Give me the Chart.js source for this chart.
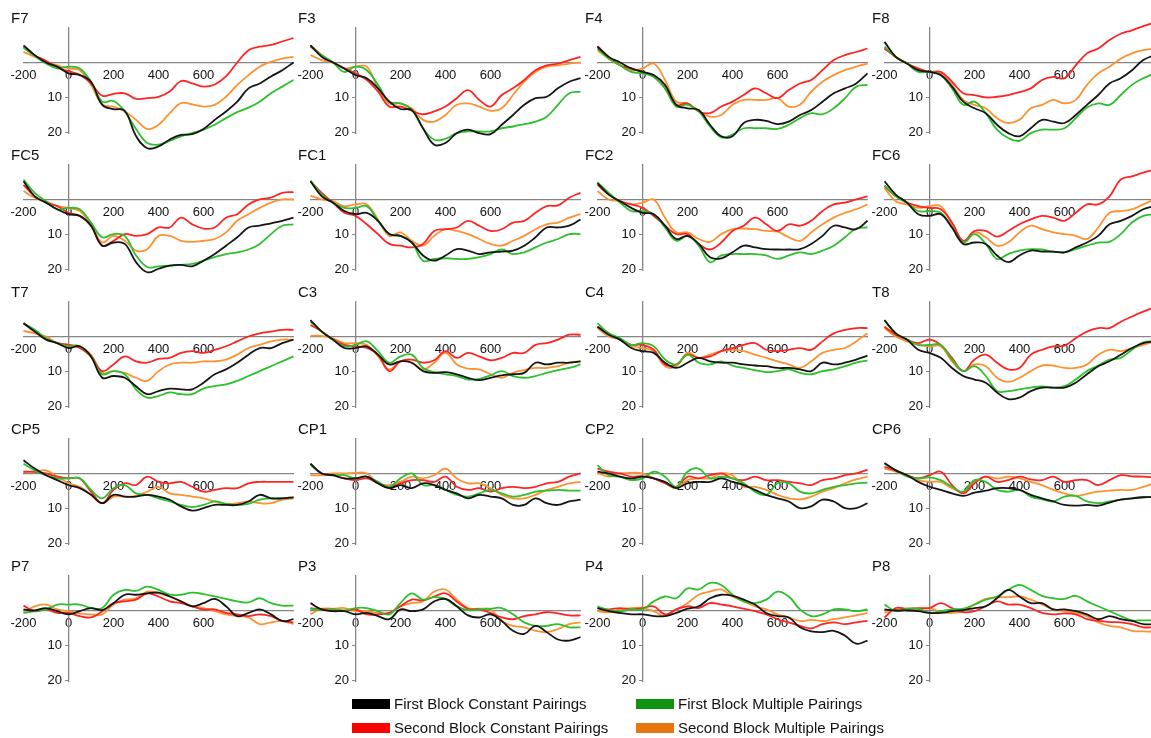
<!DOCTYPE html>
<html>
<head>
<meta charset="utf-8">
<title>ERP waveforms</title>
<script src="https://cdn.jsdelivr.net/npm/chart.js@4.4.1/dist/chart.umd.min.js"></script>
<style>
  body { margin: 0; background: #fff; overflow: hidden; font-family: "Liberation Sans", Arial, sans-serif; }
  #wrap { position: relative; width: 1151px; height: 738px; overflow: hidden; }
  #wrap canvas { position: absolute; }
  .name { position: absolute; font-size: 15px; color: #111; line-height: 18px; }
  .key { position: absolute; font-size: 15px; color: #111; line-height: 18px; white-space: nowrap; }
  .swatch { position: absolute; width: 38px; height: 10px; }
</style>
</head>
<body>
<div id="wrap"></div>
<script>
// time axis (ms) and ticks
const times = [-200, -150, -100, -50, 0, 50, 100, 150, 200, 250, 300, 350, 400, 450, 500, 550, 600, 650, 700, 750, 800, 850, 900, 950, 1000];
const xTicks = [-200, 0, 200, 400, 600];
const yTicks = [10, 20];

const channels = ["F7", "F3", "F4", "F8", "FC5", "FC1", "FC2", "FC6", "T7", "C3", "C4", "T8", "CP5", "CP1", "CP2", "CP6", "P7", "P3", "P4", "P8"];

const seriesNames = ["First Block Constant Pairings", "First Block Multiple Pairings", "Second Block Constant Pairings", "Second Block Multiple Pairings"];
const lineColors = ["#151515", "#2cc02c", "#ff2424", "#ff9130"];
const keyColors = ["#000000", "#109410", "#ff0000", "#e8760f"];

// amplitudes in microvolts (plotted negative up), one row per channel
const firstConstant = [
  [-4.9, -2.1, 0, 1.2, 3.1, 3.6, 5.5, 12.1, 13.3, 13.8, 21, 24.5, 24, 22, 20.7, 20.5, 19, 16.4, 14, 11.2, 7.4, 6, 4, 2.2, 0], // F7
  [-4.9, -1.6, 0, 1.7, 3.6, 4.5, 7.4, 11.2, 13.3, 13.6, 18.8, 23.5, 23, 20.2, 19.2, 20.2, 20.5, 17.8, 15, 12.1, 10.2, 9.8, 7.4, 5.5, 4.5], // F3
  [-4.5, -1.6, 0, 1.7, 2.7, 3.6, 6.4, 12.1, 13.1, 13.6, 17.8, 21.1, 21.1, 17.3, 16.4, 16.7, 17.6, 16.9, 15, 13.6, 11.2, 8.8, 7.4, 6, 3.1], // F4
  [-5.9, -1.6, 0.3, 2.2, 2.7, 3.6, 6.9, 11.2, 13.1, 14.5, 17.8, 20.2, 21.1, 18.8, 16.4, 16.9, 17.3, 15, 12.1, 9.3, 6, 4.5, 2.2, -0.7, -2.1], // F8
  [-5.2, -0.9, 0.9, 2.8, 4.2, 4.7, 7.5, 13.2, 12.3, 12.7, 17.9, 20.8, 19.8, 18.9, 18.7, 19.1, 17.5, 15.6, 13.2, 10.8, 8, 7.5, 6.8, 6.1, 5.2], // FC5
  [-5.2, -0.9, 0.9, 3.3, 4.2, 3.8, 6.1, 9.9, 10.4, 12.3, 16, 17.5, 16, 14.2, 14.6, 15.6, 15.1, 14.9, 14.6, 13.2, 10.8, 8, 8, 7.5, 5.7], // FC1
  [-4.7, -1.4, 0.5, 2.4, 3.8, 4.2, 7.5, 11.3, 10.4, 12.7, 16.5, 16.8, 15.1, 13.2, 13.7, 14.2, 14.3, 14.3, 14.2, 12.7, 10.4, 7.5, 8, 8.5, 6.1], // FC2
  [-5.2, -1.4, 0.9, 4.2, 4.7, 4.2, 8, 12.7, 12.3, 12.7, 16, 17.9, 16, 14.6, 14.9, 14.9, 15.1, 13.7, 12.3, 10.4, 7.1, 6.1, 4.7, 2.8, 1.9], // FC6
  [-3.8, -1.4, 0.9, 1.9, 3.3, 2.8, 5.7, 11.8, 11.3, 11.8, 14.2, 16.5, 15.6, 14.9, 15.1, 15.1, 13.2, 10.8, 9.4, 7.5, 5.2, 3.3, 3.3, 1.9, 0.9], // T7
  [-4.7, -1.4, 0.9, 3.3, 3.3, 2.8, 5.2, 8, 7.1, 7.5, 9.9, 10.4, 10.2, 10.8, 11.8, 12.5, 11.8, 11.1, 10.8, 10.4, 7.5, 8, 7.5, 7.5, 7.1], // C3
  [-2.8, -0.5, 0.9, 3.3, 4.2, 4.7, 7.5, 9, 7.5, 6.1, 7.1, 7.5, 7.5, 8, 8.3, 8.5, 9, 9, 9.4, 9.9, 7.5, 8, 7.5, 6.6, 5.5], // C4
  [-4.7, -0.9, 0.9, 3.8, 4.7, 6.1, 9, 11.3, 12.3, 13.2, 16, 17.9, 17.5, 15.6, 14.6, 14.6, 14.6, 13.2, 10.8, 8.5, 7.1, 5.2, 3.3, 1.9, 1.4], // T8
  [-3.8, -1.4, 0.5, 1.9, 3.3, 4.2, 6.1, 8.5, 6.1, 6.6, 6.6, 6.1, 6.6, 7.5, 9.4, 10.6, 9.9, 9, 9, 9, 8, 6.1, 7.1, 7.1, 6.8], // CP5
  [-2.8, 0, 0.5, 1.4, 1.4, 0.9, 2.8, 4.2, 3.3, 4.2, 2.8, 3.3, 4.7, 5.7, 7.1, 6.1, 6.6, 7.1, 9, 9, 7.1, 8.5, 9, 8, 7.5], // CP1
  [-0.5, 0, 0.9, 1.4, 0.9, 1.4, 2.4, 4.2, 2.8, 2.4, 2.4, 1.4, 2.4, 3.3, 4.7, 6.1, 7.1, 8, 9.9, 9.4, 7.5, 8, 9.9, 9.9, 8.5], // CP2
  [-3, -0.9, 0.5, 2.4, 3.8, 4.7, 5.7, 6.4, 5.5, 4.9, 4.2, 4.2, 4.7, 6.1, 7.1, 8, 9, 9.2, 9, 9.2, 8.3, 7.5, 7.1, 6.8, 6.8], // CP6
  [-0.3, 0, -0.7, 0.2, 1.1, 0.2, -0.7, -0.1, -2.1, -4.5, -4.5, -4.9, -5.1, -4, -2.6, -1.2, -2.1, -3.3, -1.2, 1.6, 0.7, -0.3, 1.1, 3, 2.5], // P7
  [-2.1, -0.3, 0.2, 0.2, 1.1, 0.7, 1.6, 2.5, -0.3, 0.2, -0.3, -2.6, -3.3, -1.2, 1.4, 2, 1.1, 3, 5.8, 6.7, 4.4, 6.2, 8.3, 8.6, 7.6], // P3
  [-0.7, 0.2, 0.7, 1.1, 1.1, 1.6, 1.6, 0.7, -0.5, -1.2, -3.5, -4.5, -4.2, -3.1, -1.7, 0.7, 1.6, 2, 4.8, 6, 6.2, 5.8, 7.2, 9.5, 8.6], // P4
  [-0.3, 0, 0, 0.2, 0.7, 0.7, 0.2, -0.1, -0.7, -1.2, -3.5, -5.9, -4, -2.1, -2.1, -0.3, -0.3, 0.2, 1.1, 2.5, 1.6, 2.5, 3, 3.9, 3.9] // P8
];

const firstMultiple = [
  [-4.2, -1.9, 0.3, 1.7, 1.2, 1.7, 5.5, 11.2, 11, 14, 19, 23, 23.5, 22.4, 21.1, 20.2, 19.2, 17.8, 15.9, 14.2, 12.9, 11.2, 8.8, 6.9, 5], // F7
  [-4.5, -2.1, 0, 2.7, 1.2, 2.2, 6.4, 11.2, 11.7, 13.5, 18.8, 22.1, 21.8, 20.2, 19.7, 19.7, 19.7, 18.8, 18.3, 17.6, 16.9, 15.5, 12.1, 8.8, 8.3], // F3
  [-4, -1.1, 0.8, 2.7, 3.1, 4.1, 7.4, 12.6, 12.1, 14, 18.3, 21.4, 20.6, 18.8, 18.8, 18.8, 19, 17.8, 15.9, 14.5, 14.8, 13.1, 10.2, 6.9, 6.4], // F4
  [-4.5, -1.6, 0.3, 2.7, 2.7, 3.6, 7.4, 12.1, 11.2, 14.5, 19.2, 21.6, 22.4, 20.2, 19.2, 19.2, 18.8, 15.9, 12.9, 11.7, 12.1, 9.3, 6.4, 4.5, 3.1], // F8
  [-5.7, -1.9, 0.5, 2.8, 2.4, 2.8, 6.6, 10.8, 9.9, 10.4, 16, 19.3, 19.1, 18.9, 18.7, 18.4, 17.5, 16.5, 15.6, 15.1, 14.3, 12.7, 9.9, 7.5, 7.1], // FC5
  [-5.4, -1.4, 0.9, 2.4, 2.4, 1.9, 6.1, 9.9, 10.4, 12.3, 17.5, 17, 16.8, 17, 17, 16.5, 15.6, 14.3, 15.6, 15.1, 13.7, 12.3, 11.3, 9.9, 9.9], // FC1
  [-4.9, -1.9, 0.9, 3.3, 3.3, 4.2, 8, 11.8, 10.4, 13.2, 17.9, 16, 15.6, 15.6, 15.6, 16, 17, 16, 15.1, 15.6, 14.6, 13.2, 10.8, 8.3, 8], // FC2
  [-4, -0.9, 0.9, 3.3, 3.3, 3.8, 8, 12.3, 9.9, 12.7, 17, 15.6, 14.6, 14.2, 14.3, 14.9, 15.1, 14.2, 13.2, 12.3, 12.1, 9.9, 6.6, 4.7, 4.2], // FC6
  [-3.8, -1.9, 0.5, 1.9, 2.8, 2.8, 5.7, 10.8, 9.9, 10.8, 15.1, 17.5, 17, 16, 16.5, 16.5, 14.9, 14.2, 13.7, 12.7, 11.3, 9.9, 8.5, 7.1, 5.7], // T7
  [-4.2, -1.4, 0.9, 2.8, 2.4, 1.4, 4.2, 7.5, 5.7, 5.2, 9, 10.2, 10.8, 11.3, 12.3, 12.1, 11.1, 9.9, 11.3, 11.8, 11.3, 10.4, 9.6, 9, 8], // C3
  [-3.8, -0.9, 0.5, 2.4, 1.9, 2.8, 6.6, 8, 5.2, 7.5, 8, 7.1, 8.3, 9, 9.6, 10.2, 9.9, 9.4, 10.4, 10.8, 9.9, 9.4, 8.5, 7.5, 6.8], // C4
  [-4.5, -0.9, 0.9, 2.4, 2.4, 2.4, 6.6, 9.9, 8.5, 11.3, 15.6, 15.6, 15.1, 14.6, 14.3, 14.6, 14.2, 12.3, 9.9, 8.3, 6.6, 6.1, 3.8, 1.7, 1.4], // T8
  [-2.8, -0.9, 0.5, 1.4, 1.4, 1.4, 4.7, 7.1, 4.2, 3.3, 5.7, 6.1, 7.1, 8, 9, 9.6, 9, 8, 8.7, 9, 8.7, 7.5, 7.1, 7.1, 6.8], // CP5
  [-2.4, 0, 0.5, 0.5, 1.4, 0.9, 2.4, 3.8, 1.4, 0, 3.3, 3.3, 4.7, 6.1, 6.6, 5.7, 4.7, 5.7, 6.6, 6.1, 5.2, 4.9, 4.7, 4.9, 4.9], // CP1
  [-2.4, 0.5, 0.9, 1.9, 1.4, -0.5, 0.9, 3.8, -0.5, -1.4, 1.4, 0.9, 1.4, 2.8, 5.2, 6.1, 2.8, 2.8, 5.2, 5.7, 4.7, 3.8, 3.3, 2.8, 2.6], // CP2
  [-2.8, -0.9, 0.8, 1.4, 1.1, 1.9, 3.8, 5.2, 1.9, 2.4, 4.7, 5.2, 4.7, 6.6, 7.4, 8, 6.6, 6.4, 8, 8.5, 8, 7.5, 7.1, 6.8, 6.6], // CP6
  [0.7, 0.2, -0.3, -1.7, -1.7, -1.7, -0.7, -0.7, -4.5, -5.9, -5.6, -6.8, -5.9, -4.5, -4.5, -5.1, -4.7, -4, -3.3, -2.6, -2.3, -3.5, -2.1, -1.4, -1.4], // P7
  [-0.5, -0.1, -0.3, 0, -0.7, -0.7, 0.2, 1.1, -2.1, -4.9, -3.1, -3.8, -3.3, -1.2, -0.1, -0.3, -0.5, -0.7, 1.1, 3.4, 4.4, 4.4, 3.9, 4.8, 4.8], // P3
  [-1.2, -0.1, 0.2, -0.3, -0.3, -2.6, -4, -3.5, -6.3, -6, -7.9, -7.3, -4.5, -2.6, -2.1, -3.1, -5.4, -4, -0.3, 1.6, 1.1, -0.3, -0.3, 0.2, -0.3], // P4
  [-1.7, 0.2, -0.5, -0.5, 0.7, 0.2, -0.3, -0.5, -1.7, -3.1, -4, -5.9, -7.3, -5.9, -4.2, -3.5, -3.3, -4.2, -2.6, -1.2, 0.2, 1.6, 2.8, 2.8, 2.8] // P8
];

const secondConstant = [
  [-4.5, -2, -0.5, 1.5, 2.5, 3.5, 6, 9.5, 9, 8.8, 10.4, 10.2, 9.8, 8.3, 5.3, 6, 6.9, 6.3, 4, 0, -3.5, -4.5, -5, -6, -7], // F7
  [-4.9, -2.1, 0, 1.7, 3.1, 5, 8.3, 12.6, 12.6, 13.8, 14.8, 14, 12.6, 10.2, 7.9, 10.7, 12.6, 9.3, 7.4, 5, 2.2, 0.8, 0.3, -0.7, -1.6], // F3
  [-4.7, -1.6, 0.8, 1.7, 2.7, 4.1, 7.4, 12.1, 11.7, 14, 14.5, 12.6, 11.2, 9.3, 7.4, 8.8, 10.2, 7.9, 6, 5, 2.2, -0.7, -2.1, -3, -4], // F4
  [-4, -1.6, 0.3, 1.7, 2.7, 2.7, 5.5, 8.8, 9.3, 10, 9.8, 9.3, 8.5, 7.4, 5, 4.1, 4.5, 0.8, -2.6, -4, -6.4, -8.2, -9.2, -10.4, -11.4], // F8
  [-4.2, -0.9, 0.9, 1.9, 3.8, 4.7, 7.5, 13.2, 11.8, 9.9, 10.4, 9.9, 8, 8, 5.2, 7.1, 8.3, 8, 5.2, 4.2, 1.4, 0, -0.5, -1.9, -2.1], // FC5
  [-5.2, -1.9, 0.9, 3.8, 4.7, 7.1, 9.9, 12.7, 13.2, 13.7, 12.7, 9, 8.5, 8, 6.1, 7.5, 9, 8.5, 6.6, 6.1, 3.8, 1.9, 1.7, -0.5, -1.9], // FC1
  [-4.2, -1.4, 0.5, 1.4, 2.4, 4.7, 7.5, 9.9, 9.9, 12.7, 14.3, 12.3, 9, 7.5, 5.2, 7.1, 9, 7.1, 7.5, 6.1, 3.3, 1.4, 0.9, 0, -0.9], // FC2
  [-3.8, -0.9, 0.9, 1.9, 2.4, 2.8, 6.6, 11.8, 9, 9, 10.6, 9, 7.1, 5.7, 4.7, 5.2, 6.1, 3.8, 1.4, 1.4, -0.9, -5.7, -6.6, -7.7, -8.5], // FC6
  [-3.8, -1.4, 0.5, 1.9, 2.4, 3.3, 5.7, 9.9, 8, 5.7, 7.1, 7.5, 6.4, 6.1, 4.7, 4.2, 4.7, 3.8, 2.8, 1.4, 0, -0.9, -1.4, -1.9, -1.9], // T7
  [-3.3, -1.4, 0.9, 2.4, 2.8, 3.3, 5.2, 9.9, 7.1, 6.6, 7.5, 6.8, 4.2, 6.1, 4.7, 5.7, 6.8, 6.1, 4.7, 4.7, 2.4, 1.9, 0.9, -0.5, -0.5], // C3
  [-2.8, -0.9, 0.9, 2.4, 2.4, 3.8, 8, 8, 5.2, 6.1, 5.7, 4.2, 3.3, 2.4, 1.9, 3.8, 4.2, 3.8, 3.3, 3.8, 1.4, -0.9, -1.9, -2.4, -2.4], // C4
  [-2.8, -0.5, 0.9, 1.9, 0.9, 2.4, 6.1, 9.9, 6.6, 5.2, 7.5, 9.4, 9, 5.2, 3.8, 2.8, 2.6, 0.5, -1.4, -2.4, -2.4, -4.2, -5.7, -7.1, -8.3], // T8
  [-0.5, -0.5, 0, 0.9, 1.4, 1.4, 5.2, 8.5, 4.7, 2.8, 3.3, 0.9, 2.4, 2.8, 2.4, 3.8, 5.2, 4.7, 4.2, 4.2, 2.8, 2.4, 2.4, 2.4, 2.4], // CP5
  [-2.8, 0, 0.5, 1.4, 1.9, 1.4, 2.8, 4.2, 2.8, 1.9, 1.9, 2.4, 0.9, 3.8, 4.7, 4.2, 5.2, 4.2, 3.8, 4.2, 3.8, 2.8, 2.4, 0.9, 0], // CP1
  [-1.4, -0.5, 0, 0.9, 0.8, 1.4, 2.8, 3.8, 0.9, 1.4, 0.5, 0, 1.4, 1.9, 0.9, 1.9, 1.9, 2.4, 2.8, 3.3, 1.9, 1.4, 0.5, 0, -1.1], // CP2
  [-1.9, -0.9, 0.5, 1.4, 0.5, -0.5, 3.3, 5.7, 2.8, 0.9, 2.4, 1.9, 0.9, 1.7, 1.9, 0.9, 2.4, 1.9, 1.9, 3.3, 1.9, 0.5, 0.8, 0.9, 1.1], // CP6
  [-1.4, 0.2, -0.3, 0.7, 0.7, 1.6, 2, 0.2, -2.1, -2.6, -3.1, -4.9, -4, -2.6, -2.1, -1.2, -0.3, -0.3, 0.7, 1.1, 1.6, 1.1, 1.6, 3, 3.4], // P7
  [-0.7, -0.3, -0.3, 0.2, -0.3, 1.1, 1.1, 0.7, -1.2, -3.1, -2.9, -4, -4.9, -2.6, -0.5, -0.3, 0.7, 2, 2.5, 1.6, 1.1, 0.5, 0.8, 1.4, 1.4], // P3
  [-0.7, -0.3, -0.7, -0.3, -0.7, -1.2, 1.1, -0.3, -1.2, -0.7, -2.1, -1.7, -1.2, -0.5, 0.2, 1.1, 2.5, 3.4, 4.4, 5.1, 3.9, 3.4, 3.9, 3.4, 3], // P4
  [2, -0.7, -0.5, -0.7, -0.7, -2.1, -0.7, 0.5, 0.2, -1.2, -2.6, -1.7, -1.7, -0.7, 0.7, 1.1, 0.8, 1.1, 2.5, 3, 3.3, 3.4, 3.9, 4.8, 4.8] // P8
];

const secondMultiple = [
  [-3, -1.6, -0.2, 0.8, 1.7, 2.2, 6.4, 12, 12.6, 14, 16.4, 19, 17.8, 14.5, 11.6, 12, 12.6, 12.1, 9.8, 6.4, 3.6, 1.2, -0.2, -1.1, -1.6], // F7
  [-2.1, -0.7, 0, 1.7, 1.2, 1.2, 7.4, 11.7, 11.7, 13.1, 16.4, 16.9, 15, 12.1, 11.7, 12.6, 13.8, 13.1, 9.3, 5.5, 2.7, 1.2, 0.8, 0.3, 0], // F3
  [-3.5, -1.1, 0.8, 2.2, 1.7, 0.3, 5, 11.2, 11.7, 14, 15.5, 15, 12.1, 10.7, 10.7, 10.7, 10.2, 12.6, 12.1, 8.3, 5.5, 3.6, 2.2, 1.2, 0.3], // F4
  [-4, -1.6, 0.3, 2.2, 2.7, 3.1, 6.4, 10.7, 12.1, 13.1, 15.9, 17.3, 16.4, 13.1, 12.1, 10.7, 11.7, 10.7, 6.4, 3.1, 1.2, -1.1, -2.6, -3.5, -4], // F8
  [-2.4, -0.5, 0.5, 1.9, 2.4, 3.3, 7.1, 12.3, 10.4, 11.8, 14.6, 14.2, 10.4, 10.4, 11.8, 12.1, 11.8, 11.3, 9.4, 6.1, 4.2, 2.4, 0.9, 0, 0], // FC5
  [-1.1, 0, 0.5, 1.9, 1.4, 1.4, 5.7, 10.4, 9.4, 11.8, 13.2, 10.4, 8.5, 9, 9.9, 11.3, 12.7, 13.2, 11.8, 10.4, 8.5, 7.1, 6.6, 5.2, 4.2], // FC1
  [-2.4, 0, 0.5, 1.4, 0.9, 0, 5.2, 9.4, 9.4, 11.3, 12.1, 9.9, 8.5, 8.3, 8.5, 9, 9.2, 10.8, 11.8, 9.4, 7.1, 5.2, 3.8, 2.8, 1.4], // FC2
  [-3.3, 0.5, 1.4, 2.4, 1.9, 1.9, 7.1, 12.3, 9.4, 10.8, 13.2, 12.3, 9.4, 7.5, 8.5, 9.4, 9.9, 10.4, 11.3, 8, 3.8, 3.3, 2.8, 1.4, 0], // FC6
  [-1.6, -0.9, 0, 1.9, 2.4, 2.8, 5.2, 10.4, 9.9, 10.4, 11.8, 12.7, 9.9, 8, 7.5, 7.5, 7.1, 7.1, 6.6, 5.2, 3.3, 2.4, 1.4, 0.9, 0.9], // T7
  [-0.2, -0.2, 0.5, 1.9, 1.9, 2.4, 5.7, 9.4, 7.1, 7.5, 9.4, 7.5, 4.7, 8, 9.2, 9.4, 10.8, 11.8, 10.4, 9.6, 9, 9, 8.5, 7.5, 7.1], // C3
  [-2.4, 0, 0.9, 2.8, 3.3, 4.2, 8.5, 8.5, 4.7, 6.1, 5.2, 4.2, 3.8, 4.2, 5.2, 6.1, 7.1, 8, 9, 7.1, 4.7, 3.8, 3.3, 1.4, -0.9], // C4
  [-2.4, 0, 1.4, 2.4, 2.8, 2.8, 7.1, 9.9, 8, 8.5, 11.8, 13, 11.8, 9.9, 8.3, 8.3, 9, 9, 8, 5.2, 3.8, 4.2, 3.3, 2.4, 1.4], // T8
  [-0.5, -0.5, -0.9, 0.9, 2.8, 3.8, 6.1, 8.5, 6.6, 6.6, 6.4, 5.2, 3.8, 5.7, 6.1, 6.6, 7.1, 8, 8.7, 8.5, 8, 8.5, 8.5, 7.5, 7.1], // CP5
  [0.5, 0.5, 0, 0, -0.2, 0, 2.8, 3.3, 2.4, 0.9, 1.4, 0.5, -1.4, 1.4, 2.8, 2.8, 4.2, 6.1, 7.1, 7.1, 6.1, 4.7, 3.8, 2.8, 2.4], // CP1
  [-0.2, 0.9, 0, -0.2, 0, 1.4, 2.8, 4.2, 1.9, 1.4, 1.4, 0, 0.5, 3.8, 3.8, 4.7, 6.1, 7.1, 7.4, 6.6, 5.2, 4.2, 2.8, 1.7, 0.9], // CP2
  [-1.4, -0.5, 0.5, 1.9, 2.4, 2.4, 4.2, 5.2, 2.4, 0.9, 1.4, 0.9, 1.4, 2.4, 3.3, 4.7, 5.7, 6.4, 5.8, 5.2, 4.9, 4.7, 4.7, 3.8, 2.8], // CP6
  [0.7, -1.2, -1.7, -0.3, 0.2, 0.8, 1.1, 1.1, -1.7, -3.1, -3.5, -5.4, -4.9, -4, -2.6, -1.2, -0.7, 0.2, 1.1, 1.6, 2, 3.9, 3.4, 3, 3.9], // P7
  [1.1, -0.5, -0.5, -0.7, 0.2, 0.2, 0.7, 0.7, -1.2, -2.1, -2.6, -5.4, -6, -3.1, -0.7, -0.5, -0.3, 3, 4.4, 4.8, 5.8, 6.2, 5.3, 3.9, 3.4], // P3
  [0.2, 0.5, -0.3, -0.7, -0.7, 0.2, 1.6, -0.3, -2.1, -4.5, -5.4, -6, -4, -2.6, -1.2, -0.3, 1.1, 2, 3, 2.7, 3, 2.5, 2, 1.4, 0.7], // P4
  [0.7, -0.3, -0.3, -0.3, -0.7, 0.5, 0.7, 0.2, -1.7, -3.3, -3.8, -3.8, -4, -3.1, -1.7, -0.3, 0.2, 0.7, 1.6, 3.4, 4.4, 4.8, 5.8, 6, 6] // P8
];

const allSeries = [firstConstant, firstMultiple, secondConstant, secondMultiple];

// panel grid
const colStep = 287;
const rowStep = 137;
const canvasW = 296;
const canvasH = 150;
const tickFont = { family: "'Liberation Sans', Arial, sans-serif", size: 13 };
const axisGray = "#858585";

const wrap = document.getElementById("wrap");

function makePanel(index) {
  const col = index % 4;
  const row = Math.floor(index / 4);
  const left = col * colStep;
  const top = row * rowStep;

  const canvas = document.createElement("canvas");
  canvas.width = canvasW;
  canvas.height = canvasH;
  canvas.style.left = left + "px";
  canvas.style.top = top + "px";
  wrap.appendChild(canvas);

  const name = document.createElement("div");
  name.className = "name";
  name.textContent = channels[index];
  name.style.left = (left + 11) + "px";
  name.style.top = (top + 9) + "px";
  wrap.appendChild(name);

  const datasets = allSeries.map((series, s) => ({
    label: seriesNames[s],
    data: times.map((t, i) => ({ x: t, y: series[index][i] })),
    borderColor: lineColors[s],
    borderWidth: 1.8,
    pointRadius: 0,
    tension: 0.4,
    clip: false,
  }));

  new Chart(canvas, {
    type: "line",
    data: { datasets: datasets },
    options: {
      responsive: false,
      animation: false,
      layout: { padding: { left: 23.5, right: 2.5, top: 27.5, bottom: 16.5 } },
      plugins: { legend: { display: false }, tooltip: { enabled: false } },
      scales: {
        x: {
          type: "linear",
          position: { y: 0 },
          min: -200,
          max: 1000,
          grid: { display: false },
          border: { color: axisGray, width: 1.3 },
          afterBuildTicks: (scale) => { scale.ticks = xTicks.map((v) => ({ value: v })); },
          ticks: { font: tickFont, color: "#111", padding: -3, autoSkip: false, maxRotation: 0 },
        },
        y: {
          type: "linear",
          position: { x: 0 },
          reverse: true,
          min: -10,
          max: 20.3,
          grid: { display: true, drawOnChartArea: false, drawTicks: true, tickLength: 3, color: axisGray },
          border: { color: axisGray, width: 1.3 },
          afterBuildTicks: (scale) => { scale.ticks = yTicks.map((v) => ({ value: v })); },
          ticks: {
            font: tickFont,
            color: "#111",
            autoSkip: false,
            // keep a small gap between the label and the axis line
            callback: (value) => value + "\u2002",
          },
        },
      },
    },
  });
}

channels.forEach((c, i) => makePanel(i));

// legend, two rows
const keyPos = [[352, 695], [636, 695], [352, 719], [636, 719]];
seriesNames.forEach((label, s) => {
  const sw = document.createElement("div");
  sw.className = "swatch";
  sw.style.background = keyColors[s];
  sw.style.left = keyPos[s][0] + "px";
  sw.style.top = (keyPos[s][1] + 4) + "px";
  wrap.appendChild(sw);

  const txt = document.createElement("div");
  txt.className = "key";
  txt.textContent = label;
  txt.style.left = (keyPos[s][0] + 42) + "px";
  txt.style.top = keyPos[s][1] + "px";
  wrap.appendChild(txt);
});
</script>
</body>
</html>
